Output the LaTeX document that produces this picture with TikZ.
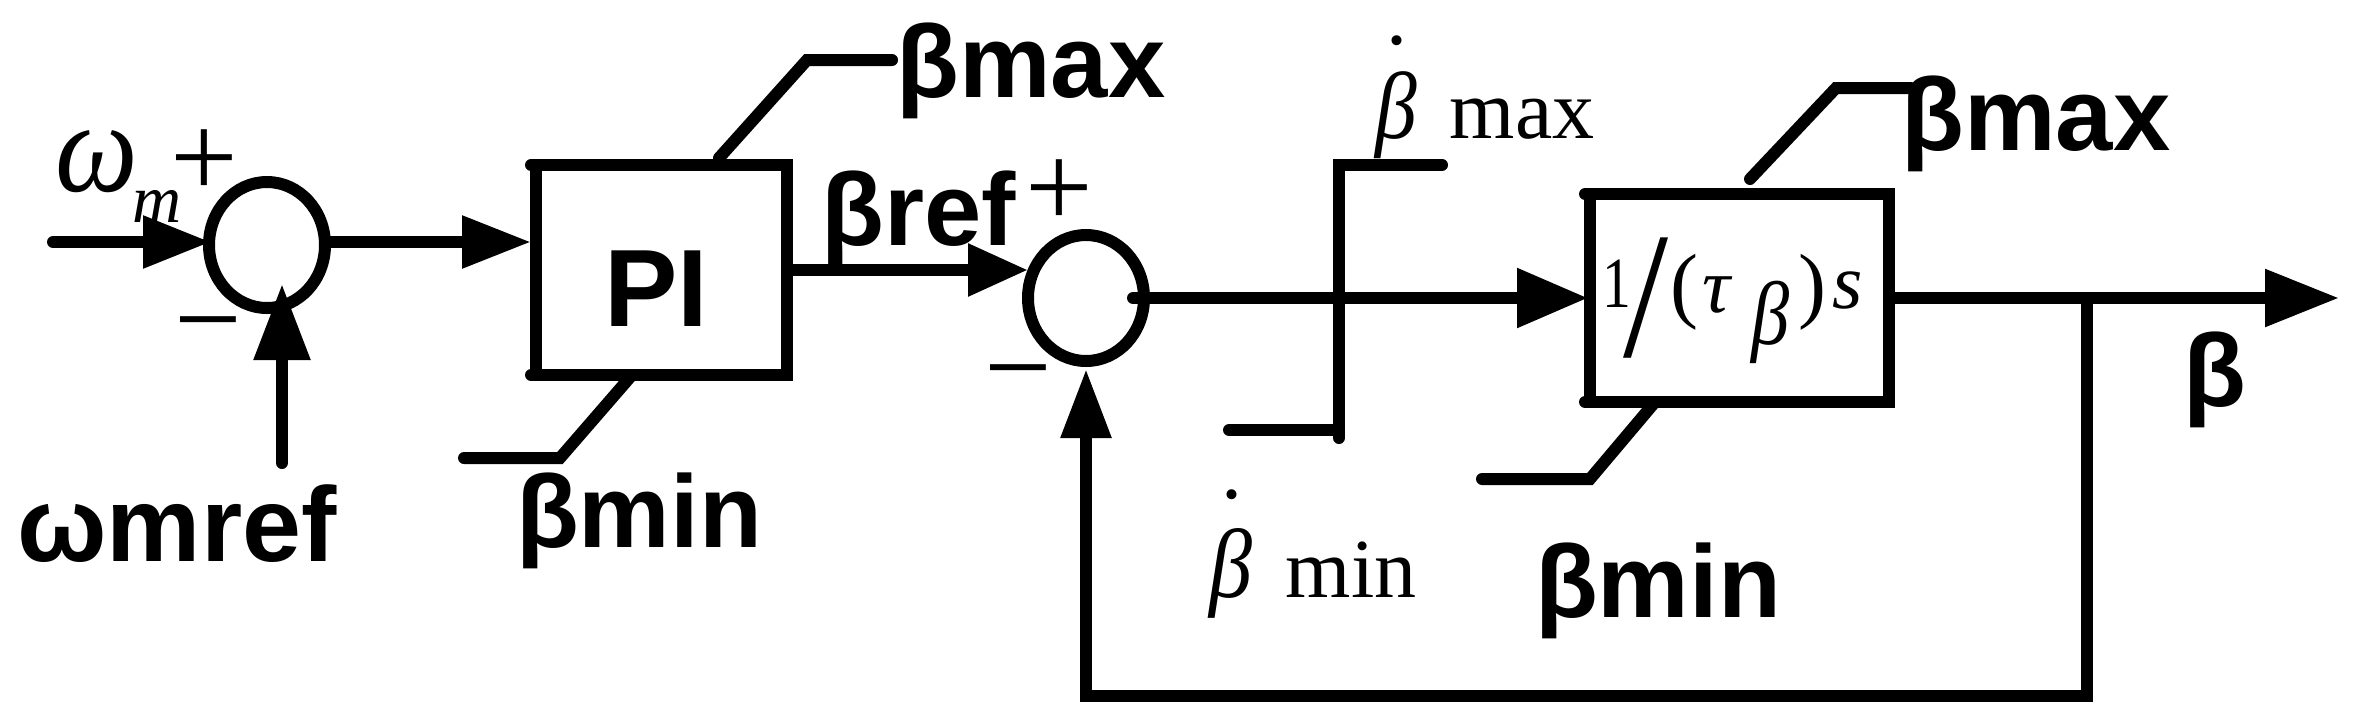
\documentclass[tikz,border=0pt]{standalone}
\usepackage{fontspec}
\setmainfont{Liberation Sans}
\newfontfamily\timesf{Liberation Serif}
\usetikzlibrary{arrows.meta,shapes.geometric}
\newcommand{\bfs}[1]{\fontsize{#1}{#1}\selectfont\bfseries}
\newcommand{\tms}[1]{\fontsize{#1}{#1}\selectfont\timesf}
\newcommand{\tmi}[1]{\fontsize{#1}{#1}\selectfont\timesf\itshape}
\tikzset{
  wire/.style={line width=12pt,line cap=round,line join=miter,draw=black},
  arr/.style 2 args={wire,-{Triangle[length=#1pt,width=#2pt]}},
  sumj/.style={draw=black,line width=12pt,ellipse,minimum width=116pt,minimum height=126pt,inner sep=0,outer sep=0},
  blockn/.style={draw=black,line width=12pt,rectangle,inner sep=0,outer sep=0,line join=miter},
  txt/.style={inner sep=0,outer sep=0,anchor=base},
  lab/.style={txt,font=\bfs{103}},
  thinlab/.style={txt,font=\tms{84}},
  sign/.style={txt,font=\tms{120}},
}
\begin{document}
\begin{tikzpicture}[x=1pt,y=-1pt]
\useasboundingbox[fill=white] (0,0) rectangle (2353,726);

% main blocks
\node[sumj] (c1) at (267,245) {};
\node[sumj] (c2) at (1086,298) {};
\node[blockn,minimum width=251pt,minimum height=210pt] (pi) at (661.5,270) {};
\node[txt,font=\bfs{110}] (pitxt) at (656,326) {PI};
\node[blockn,minimum width=299pt,minimum height=208pt] (int) at (1739.5,298) {};

% coordinates of free ends
\coordinate (in) at (53,242);
\coordinate (wr) at (282,463);
\coordinate (wt) at (282,284);
\coordinate (out) at (2339,298);
\coordinate (jn) at (2087,298);
\coordinate (fbr) at (2087,696);
\coordinate (fbl) at (1086,696);

% connectors
\draw[arr={68}{50}] (in) -- ([xshift=2pt]in -| c1.west);
\draw[arr={69}{50}] (in -| c1.east) -- ([xshift=-5pt]in -| pi.west);
\draw[arr={76}{54}] (wr) -- (wt);
\draw[arr={60}{50}] (pi.east) -- (pi.east -| c2.west);
\draw[arr={71}{57}] ([xshift=-11pt]c2.east) -- ([xshift=-2pt]int.west);
\draw[arr={74}{55}] (int.east) -- (out);
\draw[arr={69}{48}] (jn) -- (fbr) -- (fbl) -- ([yshift=-8pt]c2.south);

% block side extensions
\draw[wire] (pi.north west) -- ++(-5,0);
\draw[wire] (pi.south west) -- ++(-5,0);
\draw[wire] (int.north west) -- ++(-5,0);
\draw[wire] (int.south west) -- ++(-5,0);

% limiters
\coordinate (a1) at (719,158); \coordinate (a2) at (807,60); \coordinate (a3) at (892,60);
\draw[wire] (a1) -- (a2) -- (a3);
\coordinate (b1) at (632,375); \coordinate (b2) at (560,458); \coordinate (b3) at (464,458);
\draw[wire] (b1) -- (b2) -- (b3);
\coordinate (d1) at (1750,179); \coordinate (d2) at (1836,88); \coordinate (d3) at (1911,88);
\draw[wire] (d1) -- (d2) -- (d3);
\coordinate (e1) at (1655,402); \coordinate (e2) at (1590,479); \coordinate (e3) at (1482,479);
\draw[wire] (e1) -- (e2) -- (e3);
\coordinate (l1) at (1442,165); \coordinate (l2) at (1339,165); \coordinate (l3) at (1339,438);
\draw[wire] (l1) -- (l2) -- (l3);
\coordinate (l4) at (1339,430); \coordinate (l5) at (1229,430);
\draw[wire] (l4) -- (l5);

% bold labels
\node[lab] (t1) at (1031,97) {βmax};
\node[lab] (t2) at (919,245) {βref};
\node[txt,font=\bfs{106}] (t3) at (177,561) {ωmref};
\node[lab] (t4) at (639,547) {βmin};
\node[lab] (t5) at (2036,150) {βmax};
\node[lab] (t6) at (1658,617) {βmin};
\node[lab] (t7) at (2215,406) {β};

% signs
\node[sign] (p1) at (204,197) {+};
\node[sign] (m1) at (208,359) {−};
\node[sign] (p2) at (1059,227) {+};
\node[sign] (m2) at (1018,407) {−};

% omega_m
\node[txt,font=\tmi{130}] (om) at (97,191) {\scalebox{.9}[1]{ω}};
\node[txt,font=\tmi{68}] (omm) at (157,222) {m};

% beta-dot max / min
\node[txt,font=\tmi{95}] (bd1) at (1396,138) {\scalebox{.88}[1]{β}};
\node[thinlab] (dot1) at (1397,44) {.};
\node[thinlab] (mx) at (1522,138) {max};
\node[txt,font=\tmi{98}] (bd2) at (1231,597) {\scalebox{.88}[1]{β}};
\node[thinlab] (dot2) at (1232,498) {.};
\node[thinlab] (mn) at (1351,597) {min};

% transfer function
\node[txt,font=\tms{72}] (f1) at (1617,307) {\scalebox{.8}[1]{1}};
\node[txt,font=\tms{180}] (f2) at (1646,356) {\scalebox{.9}[1]{/}};
\node[thinlab] (f3) at (1684,312) {(};
\node[txt,font=\tmi{78}] (f4) at (1716,312) {τ};
\node[txt,font=\tmi{90}] (f5) at (1771,344) {\scalebox{.85}[1]{β}};
\node[thinlab] (f6) at (1812,312) {)};
\node[txt,font=\tmi{78}] (f7) at (1848,308) {s};
\end{tikzpicture}
\end{document}
